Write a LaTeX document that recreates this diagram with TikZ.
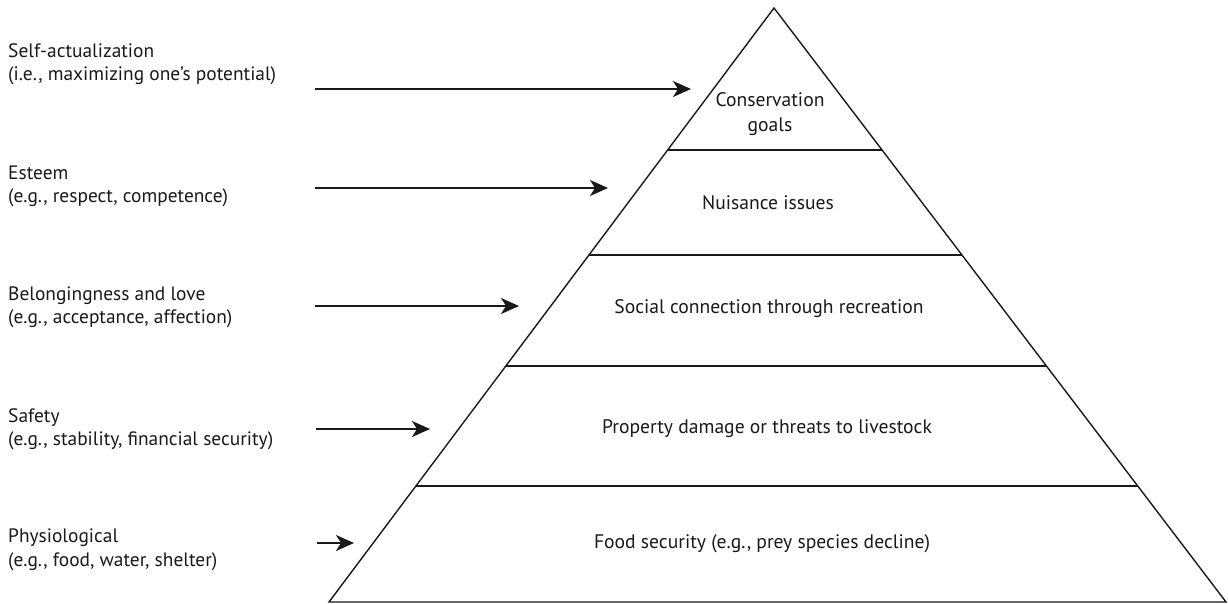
\documentclass[tikz,border=0pt]{standalone}
\usepackage{fontspec}
\setmainfont{PT Sans}
\usetikzlibrary{arrows.meta,calc}
\begin{document}
\begin{tikzpicture}[x=1pt,y=-1pt,
  edge/.style={line width=1.4pt, draw=black!90},
  need/.style={anchor=base west, font=\fontsize{19.4}{23}\selectfont, text=black!90, inner sep=0pt},
  layer/.style={anchor=base, font=\fontsize{19.6}{23}\selectfont, text=black!90, inner sep=0pt},
  pointer/.style={line width=2pt, draw=black!90, -{Stealth[length=18pt,width=16pt,inset=5pt]}}]
\useasboundingbox (0,0) rectangle (1228,604);

% pyramid outline
\coordinate (apex) at (774,8);
\coordinate (bl) at (329,602);
\coordinate (br) at (1226,602);
\draw[edge, line join=miter] (apex) -- (bl) -- (br) -- cycle;

% level dividers
\foreach \n/\t in {1/0.239, 2/0.4158, 3/0.6027, 4/0.8047}{
  \coordinate (L\n) at ($(apex)!\t!(bl)$);
  \coordinate (R\n) at ($(apex)!\t!(br)$);
  \draw[edge, line width=1.2pt] (L\n) -- (R\n);
}

% layer texts
\node[layer] (cons1) at (770,107) {Conservation};
\node[layer] (cons2) at (770,132) {goals};
\node[layer] (nuis) at (768,209) {Nuisance issues};
\node[layer] (soc) at (769,313) {Social connection through recreation};
\node[layer] (prop) at (767,433) {Property damage or threats to livestock};
\node[layer] (food) at (762,548) {Food security (e.g., prey species decline)};

% needs on the left
\node[need] (selfA) at (8,58) {Self-actualization};
\node[need] (selfB) at (8,81) {(i.e., maximizing one’s potential)};
\node[need] (estA) at (8,179) {Esteem};
\node[need] (estB) at (8,203) {(e.g., respect, competence)};
\node[need] (belA) at (8,300) {Belongingness and love};
\node[need] (belB) at (8,323) {(e.g., acceptance, affection)};
\node[need] (safA) at (8,422) {Safety};
\node[need] (safB) at (8,445) {(e.g., stability, financial security)};
\node[need] (phyA) at (8,542) {Physiological};
\node[need] (phyB) at (8,566) {(e.g., food, water, shelter)};

% arrows
\coordinate (s1) at (315,89);  \coordinate (e1) at (691,89);
\coordinate (s2) at (315,188); \coordinate (e2) at (608,188);
\coordinate (s3) at (315,306); \coordinate (e3) at (519,306);
\coordinate (s4) at (316,429); \coordinate (e4) at (430,429);
\coordinate (s5) at (317,543); \coordinate (e5) at (354,543);
\foreach \i in {1,...,5}{
  \draw[pointer] (s\i) -- (e\i);
}
\end{tikzpicture}
\end{document}
